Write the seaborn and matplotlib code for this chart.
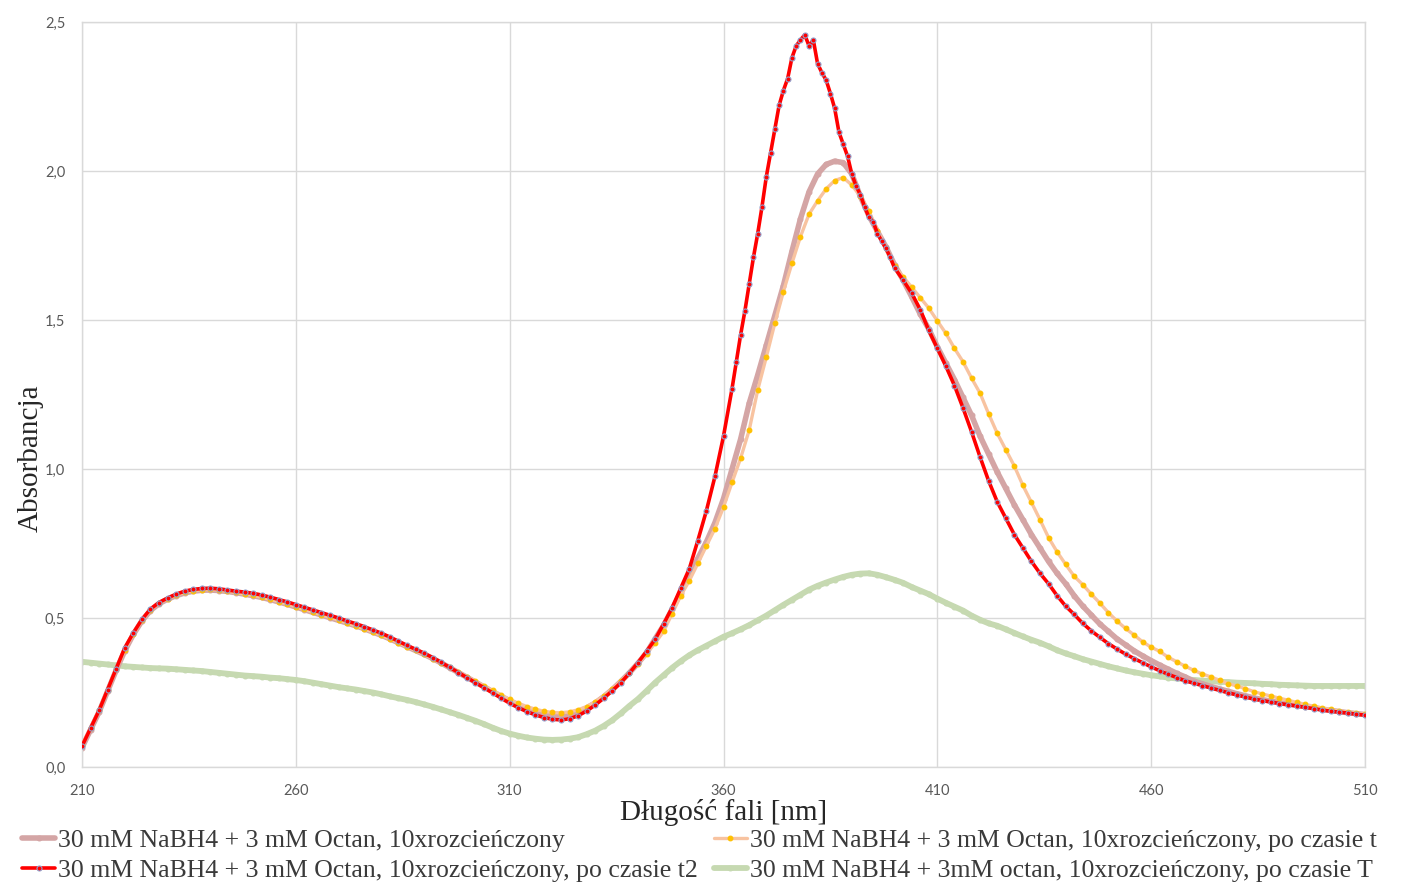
import numpy as np
import matplotlib
matplotlib.use("Agg")
import matplotlib.pyplot as plt
import seaborn as sns
from matplotlib.ticker import FuncFormatter

# wavelengths [nm]
wavelength = np.arange(210, 511, 2)
wavelength_t2 = np.concatenate([np.arange(210, 363, 2), np.arange(363, 401), np.arange(402, 511, 2)])

# absorbance, 30 mM NaBH4 + 3 mM Octan, 10x diluted
abs_base = [
    0.065, 0.125, 0.185, 0.255, 0.325, 0.390, 0.445, 0.490, 0.525, 0.548,
    0.563, 0.575, 0.584, 0.590, 0.593, 0.594, 0.592, 0.589, 0.585, 0.580,
    0.575, 0.569, 0.562, 0.554, 0.546, 0.537, 0.528, 0.519, 0.510, 0.501,
    0.492, 0.483, 0.474, 0.464, 0.453, 0.442, 0.430, 0.417, 0.404, 0.391,
    0.378, 0.364, 0.349, 0.333, 0.317, 0.301, 0.285, 0.269, 0.253, 0.237,
    0.222, 0.208, 0.196, 0.186, 0.179, 0.175, 0.174, 0.177, 0.185, 0.198,
    0.215, 0.236, 0.260, 0.287, 0.316, 0.348, 0.383, 0.430, 0.475, 0.530,
    0.585, 0.645, 0.700, 0.755, 0.820, 0.900, 1.000, 1.100, 1.220, 1.315,
    1.415, 1.515, 1.615, 1.730, 1.840, 1.930, 1.990, 2.022, 2.033, 2.028,
    1.990, 1.915, 1.850, 1.797, 1.745, 1.685, 1.634, 1.578, 1.520, 1.470,
    1.410, 1.355, 1.300, 1.240, 1.180, 1.110, 1.050, 0.990, 0.935, 0.880,
    0.830, 0.780, 0.735, 0.690, 0.650, 0.615, 0.575, 0.540, 0.510, 0.480,
    0.455, 0.430, 0.410, 0.390, 0.373, 0.357, 0.342, 0.328, 0.314, 0.302,
    0.288, 0.279, 0.270, 0.262, 0.254, 0.246, 0.239, 0.232, 0.226, 0.221,
    0.216, 0.211, 0.207, 0.203, 0.199, 0.194, 0.190, 0.186, 0.182, 0.179,
    0.176,
]

# ... po czasie t
abs_t = [
    0.075, 0.130, 0.190, 0.258, 0.328, 0.393, 0.447, 0.492, 0.527, 0.550,
    0.565, 0.577, 0.586, 0.592, 0.595, 0.596, 0.594, 0.590, 0.586, 0.581,
    0.576, 0.570, 0.563, 0.555, 0.547, 0.538, 0.529, 0.520, 0.511, 0.502,
    0.493, 0.484, 0.474, 0.464, 0.453, 0.442, 0.430, 0.417, 0.404, 0.391,
    0.378, 0.364, 0.349, 0.334, 0.318, 0.303, 0.288, 0.272, 0.257, 0.242,
    0.227, 0.214, 0.203, 0.194, 0.187, 0.183, 0.182, 0.185, 0.192, 0.203,
    0.219, 0.239, 0.262, 0.288, 0.316, 0.347, 0.380, 0.416, 0.455, 0.515,
    0.575, 0.625, 0.683, 0.742, 0.800, 0.872, 0.955, 1.036, 1.130, 1.265,
    1.375, 1.489, 1.595, 1.690, 1.780, 1.855, 1.900, 1.940, 1.968, 1.978,
    1.953, 1.915, 1.866, 1.800, 1.740, 1.680, 1.645, 1.610, 1.575, 1.540,
    1.497, 1.455, 1.405, 1.360, 1.305, 1.254, 1.185, 1.120, 1.065, 1.010,
    0.945, 0.888, 0.830, 0.770, 0.722, 0.680, 0.640, 0.612, 0.580, 0.550,
    0.518, 0.490, 0.465, 0.443, 0.420, 0.402, 0.388, 0.368, 0.353, 0.338,
    0.324, 0.312, 0.302, 0.291, 0.280, 0.272, 0.263, 0.253, 0.245, 0.238,
    0.231, 0.224, 0.217, 0.210, 0.204, 0.198, 0.193, 0.188, 0.184, 0.180,
    0.177,
]

# ... po czasie t2 (1 nm steps around the peak)
abs_t2 = [
    0.070, 0.130, 0.190, 0.260, 0.330, 0.400, 0.450, 0.495, 0.530, 0.552,
    0.567, 0.580, 0.590, 0.596, 0.599, 0.600, 0.598, 0.594, 0.590, 0.587,
    0.583, 0.577, 0.570, 0.562, 0.554, 0.545, 0.536, 0.527, 0.518, 0.509,
    0.500, 0.490, 0.481, 0.471, 0.460, 0.449, 0.436, 0.422, 0.408, 0.395,
    0.382, 0.367, 0.351, 0.334, 0.317, 0.300, 0.283, 0.266, 0.249, 0.231,
    0.214, 0.199, 0.186, 0.175, 0.166, 0.160, 0.158, 0.162, 0.172, 0.188,
    0.208, 0.231, 0.256, 0.283, 0.315, 0.350, 0.388, 0.428, 0.480, 0.535,
    0.600, 0.665, 0.760, 0.860, 0.975, 1.110, 1.270,
    1.36, 1.45, 1.53, 1.62, 1.71, 1.79, 1.88, 1.98, 2.06, 2.14,
    2.22, 2.27, 2.31, 2.38, 2.42, 2.44, 2.457, 2.42, 2.44, 2.36,
    2.33, 2.305, 2.26, 2.21, 2.13, 2.09, 2.05, 1.99, 1.95, 1.92,
    1.88, 1.845, 1.83, 1.79, 1.765, 1.74, 1.71, 1.675,
    1.634, 1.590, 1.535, 1.465, 1.405, 1.345, 1.280, 1.205, 1.125, 1.040,
    0.960, 0.890, 0.835, 0.780, 0.735, 0.690, 0.650, 0.615, 0.575, 0.540,
    0.512, 0.482, 0.457, 0.435, 0.414, 0.396, 0.379, 0.364, 0.350, 0.336,
    0.323, 0.311, 0.300, 0.289, 0.281, 0.273, 0.265, 0.257, 0.249, 0.242,
    0.235, 0.228, 0.223, 0.218, 0.213, 0.209, 0.205, 0.200, 0.196, 0.191,
    0.187, 0.184, 0.181, 0.177, 0.174,
]

# 3mM octan ... po czasie T
abs_T = [
    0.353, 0.350, 0.347, 0.344, 0.341, 0.338, 0.336, 0.334, 0.332, 0.331,
    0.330, 0.328, 0.326, 0.324, 0.322, 0.319, 0.316, 0.313, 0.310, 0.307,
    0.305, 0.303, 0.300, 0.298, 0.295, 0.292, 0.288, 0.283, 0.278, 0.273,
    0.268, 0.264, 0.260, 0.255, 0.250, 0.244, 0.237, 0.231, 0.225, 0.218,
    0.210, 0.202, 0.193, 0.184, 0.175, 0.165, 0.155, 0.144, 0.132, 0.121,
    0.112, 0.105, 0.099, 0.095, 0.092, 0.091, 0.092, 0.095, 0.100, 0.110,
    0.122, 0.138, 0.157, 0.180, 0.205, 0.228, 0.255, 0.283, 0.308, 0.333,
    0.355, 0.375, 0.392, 0.407, 0.422, 0.437, 0.449, 0.462, 0.476, 0.492,
    0.508, 0.526, 0.544, 0.561, 0.578, 0.595, 0.608, 0.619, 0.629, 0.638,
    0.645, 0.649, 0.650, 0.645, 0.637, 0.628, 0.618, 0.604, 0.592, 0.580,
    0.565, 0.551, 0.538, 0.525, 0.508, 0.494, 0.482, 0.474, 0.462, 0.450,
    0.438, 0.427, 0.417, 0.405, 0.392, 0.381, 0.372, 0.362, 0.354, 0.346,
    0.338, 0.331, 0.324, 0.318, 0.313, 0.308, 0.304, 0.300, 0.297, 0.294,
    0.292, 0.290, 0.288, 0.286, 0.285, 0.283, 0.282, 0.281, 0.279, 0.278,
    0.276, 0.275, 0.274, 0.273, 0.272, 0.272, 0.272, 0.272, 0.272, 0.272,
    0.272,
]

labels = [
    "30 mM NaBH4 + 3 mM Octan, 10xrozcieńczony",
    "30 mM NaBH4 + 3 mM Octan, 10xrozcieńczony, po czasie t",
    "30 mM NaBH4 + 3 mM Octan, 10xrozcieńczony, po czasie t2",
    "30 mM NaBH4 + 3mM octan, 10xrozcieńczony, po czasie T",
]

sns.set_style("white")
plt.rcParams['font.family'] = ['Liberation Serif', 'DejaVu Serif']

fig = plt.figure(figsize=(14.05, 8.83), dpi=100)
ax = fig.add_axes([82 / 1405, 1 - 767 / 883, (1365 - 82) / 1405, (767 - 22) / 883])

# (x, y, line colour, lw, marker face, marker edge, marker size, zorder)
styles = [
    (wavelength, abs_base, '#D4A5A5', 4.0, '#D4A5A5', '#D4A5A5', 3.5, 2),
    (wavelength, abs_t, '#F8C3A0', 2.4, '#FFC000', '#FFC000', 3.4, 3),
    (wavelength_t2, abs_t2, '#FF0000', 2.6, '#FF0000', '#8FA2CF', 3.6, 4),
    (wavelength, abs_T, '#C6D9B1', 4.2, '#C6D9B1', '#C6D9B1', 3.5, 1),
]

handles = []
for (x, y, col, lw, mfc, mec, ms, z), lab in zip(styles, labels):
    sns.lineplot(x=x, y=y, ax=ax, color=col, linewidth=lw, marker='o',
                 markersize=ms, markerfacecolor=mfc, markeredgecolor=mec,
                 markeredgewidth=0.8, estimator=None, zorder=z)
    handles.append(ax.lines[-1])

if ax.get_legend() is not None:
    ax.get_legend().remove()

ax.set_xlim(210, 510)
ax.set_ylim(0, 2.5)
ax.set_xticks(range(210, 511, 50))
ax.set_yticks(np.arange(0, 2.51, 0.5))
ax.yaxis.set_major_formatter(FuncFormatter(lambda v, p: f"{v:.1f}".replace('.', ',')))
ax.grid(True, color='#D9D9D9', linewidth=1)
ax.set_axisbelow(True)
for s in ax.spines.values():
    s.set_color('#D9D9D9')
    s.set_linewidth(1)
ax.tick_params(axis='both', length=0, colors='#595959', labelsize=10.5, pad=12)
for t in ax.get_xticklabels() + ax.get_yticklabels():
    t.set_fontfamily('Lato')

ax.set_xlabel('Długość fali [nm]', fontsize=21, color='#262626')
ax.set_ylabel('Absorbancja', fontsize=21, color='#262626')
ax.xaxis.set_label_coords(0.5, (767 - 799) / 745)
ax.yaxis.set_label_coords((44 - 82) / 1283, (767 - 458) / 745)

order = [0, 2, 1, 3]
fig.legend([handles[i] for i in order], [labels[i] for i in order],
           ncol=2, loc='upper left', bbox_to_anchor=(22 / 1405, 1 - 829 / 883),
           frameon=False, fontsize=18.5, handlelength=1.3, handletextpad=0.12,
           columnspacing=0.6, labelspacing=0.27, borderaxespad=0, borderpad=0,
           labelcolor='#3A3A3A')

fig.savefig('out.png', dpi=100)
